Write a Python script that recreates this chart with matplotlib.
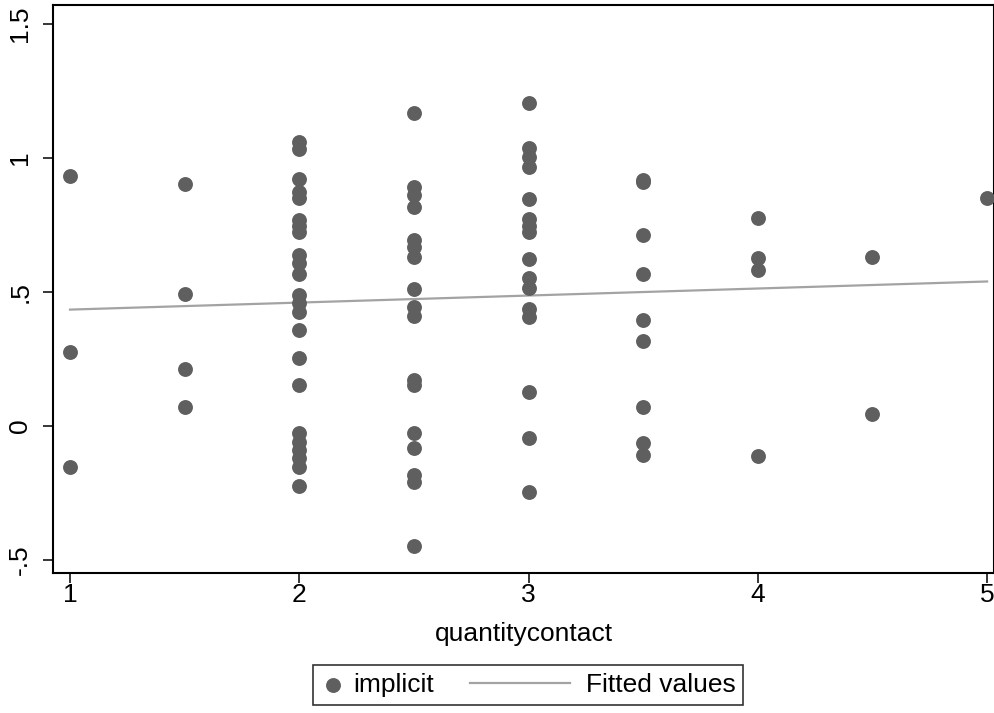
import numpy as np
import matplotlib
matplotlib.use("Agg")
import matplotlib.pyplot as plt
from matplotlib.legend_handler import HandlerBase
from matplotlib.lines import Line2D

plt.rcParams['font.family'] = ['Liberation Sans', 'DejaVu Sans']

# implicit scores, one list per quantitycontact value
x_levels = [1, 1.5, 2, 2.5, 3, 3.5, 4, 4.5, 5]
implicit_by_level = [
    [0.933, 0.276, -0.154],
    [0.903, 0.491, 0.214, 0.072],
    [1.061, 1.032, 0.920, 0.874, 0.850, 0.769, 0.746, 0.725, 0.638, 0.607,
     0.567, 0.489, 0.460, 0.426, 0.358, 0.252, 0.153, -0.027, -0.059,
     -0.090, -0.121, -0.152, -0.224],
    [1.167, 0.893, 0.862, 0.818, 0.694, 0.669, 0.632, 0.511, 0.445, 0.410,
     0.172, 0.153, -0.027, -0.083, -0.183, -0.208, -0.450],
    [1.204, 1.036, 1.002, 0.965, 0.846, 0.771, 0.746, 0.725, 0.623, 0.551,
     0.514, 0.435, 0.408, 0.128, -0.046, -0.245],
    [0.918, 0.912, 0.713, 0.567, 0.396, 0.315, 0.072, -0.065, -0.108],
    [0.775, 0.626, 0.580, -0.114],
    [0.632, 0.044],
    [0.851],
]
fit_x = [1, 5]
fit_y = [0.434, 0.539]

xs = []
ys = []
for lvl, vals in zip(x_levels, implicit_by_level):
    xs += [lvl] * len(vals)
    ys += vals


# legend line key is longer than the dot key, so let it reach back into the column gap
class LongLineHandler(HandlerBase):
    def create_artists(self, legend, orig_handle, xdescent, ydescent,
                       width, height, fontsize, trans):
        y = height / 2 - ydescent
        ln = Line2D([-60 - xdescent, 12 - xdescent], [y, y],
                    color=orig_handle.get_color(), lw=orig_handle.get_linewidth())
        ln.set_transform(trans)
        return [ln]


fig = plt.figure(figsize=(9.95, 7.13), dpi=100)
ax = fig.add_axes([0.0533, 0.1964, 0.9457, 0.7966])

dots = ax.scatter(xs, ys, s=115, color="#5f5f5f", linewidths=0, zorder=3)
line, = ax.plot(fit_x, fit_y, color="#a3a3a3", lw=1.6, zorder=2)

ax.set_xlim(0.926, 5.03)
ax.set_ylim(-0.549, 1.571)
ax.set_xticks([1, 2, 3, 4, 5])
ax.set_xticklabels(["1", "2", "3", "4", "5"])
ax.set_yticks([-0.5, 0, 0.5, 1, 1.5])
ax.set_yticklabels(["-.5", "0", ".5", "1", "1.5"], rotation=90, va="center")
ax.tick_params(axis="both", labelsize=19, length=7, width=1.1, direction="out")
ax.tick_params(axis="x", pad=0)
ax.tick_params(axis="y", pad=8)
for sp in ax.spines.values():
    sp.set_linewidth(1.5)

ax.set_xlabel("quantitycontact", fontsize=19, labelpad=11)

leg = fig.legend([dots, line], ["implicit", "Fitted values"], loc="lower center",
                 bbox_to_anchor=(0.5307, 0.011), ncol=2, fontsize=19,
                 frameon=True, fancybox=False, edgecolor="black",
                 handlelength=0.91, columnspacing=4.55, handletextpad=0.3,
                 borderpad=0.3, borderaxespad=0, scatterpoints=1,
                 handler_map={Line2D: LongLineHandler()})
leg.get_frame().set_linewidth(1.2)

fig.savefig("out.png", dpi=100)
